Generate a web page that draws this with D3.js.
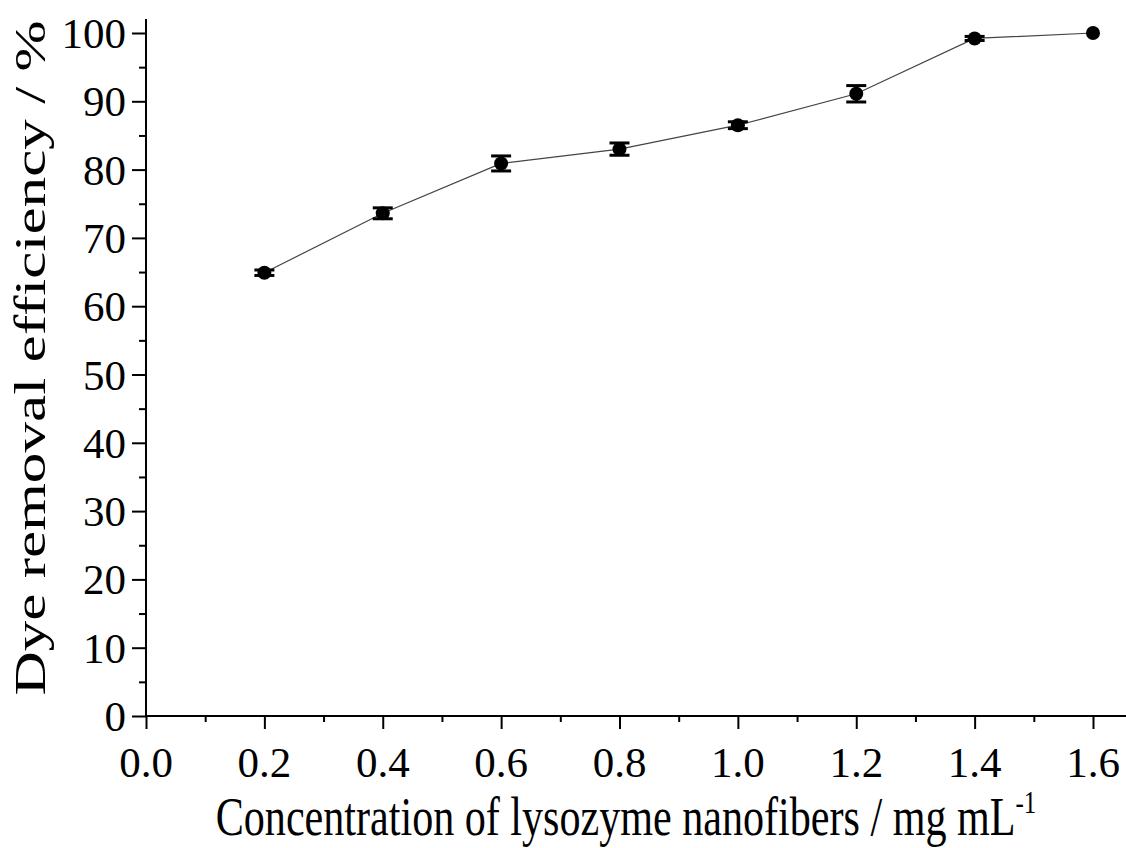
<!DOCTYPE html>
<html>
<head>
<meta charset="utf-8">
<script src="https://cdn.jsdelivr.net/npm/d3@7"></script>
<style>
  body { margin: 0; background: #fff; }
  svg text { font-family: "Liberation Serif", "Times New Roman", serif; fill: #000; }
</style>
</head>
<body>
<div class="container"></div>
<script>
var concentrations = [0.2, 0.4, 0.6, 0.8, 1.0, 1.2, 1.4, 1.6];
var efficiency = [64.9, 73.6, 80.9, 83.0, 86.5, 91.1, 99.2, 100.0];
var errors = [0.4, 0.8, 1.1, 0.9, 0.5, 1.2, 0.3, 0];
var xTicks = [0, 0.2, 0.4, 0.6, 0.8, 1.0, 1.2, 1.4, 1.6];
var yTicks = [0, 10, 20, 30, 40, 50, 60, 70, 80, 90, 100];

var iWidth = 1126, iHeight = 848;

var svg = d3.select(".container").append("svg")
	.attr("width", iWidth)
	.attr("height", iHeight);

var x = d3.scaleLinear().domain([0, 1.6]).range([146, 1093]);
var y = d3.scaleLinear().domain([0, 100]).range([716, 33]);

// x axis: major ticks every 0.2, minor in between
var xAxis = d3.axisBottom(x)
	.tickValues(d3.range(0, 17).map(function(i) { return i / 10; }))
	.tickSize(6)
	.tickFormat("");
var gx = svg.append("g").attr("transform", "translate(0,716)").call(xAxis);
gx.select(".domain").remove();
gx.selectAll(".tick").filter(function(d, i) { return i % 2 === 0; })
	.select("line").attr("y2", 13);
gx.selectAll(".tick line").attr("stroke", "#000").attr("stroke-width", 2);
svg.append("line")
	.attr("x1", 145).attr("x2", 1126)
	.attr("y1", 716).attr("y2", 716)
	.attr("stroke", "#000").attr("stroke-width", 2);

svg.append("g").selectAll("text")
	.data(xTicks)
	.enter()
	.append("text")
	.attr("x", function(d) { return x(d); })
	.attr("y", 777)
	.attr("text-anchor", "middle")
	.style("font-size", "43px")
	.text(function(d) { return d.toFixed(1); });

// y axis
var yAxis = d3.axisLeft(y)
	.tickValues(d3.range(0, 101, 5))
	.tickSize(7)
	.tickFormat("");
var gy = svg.append("g").attr("transform", "translate(146,0)").call(yAxis);
gy.select(".domain").remove();
gy.selectAll(".tick").filter(function(d) { return d % 10 === 0; })
	.select("line").attr("x2", -14);
gy.selectAll(".tick line").attr("stroke", "#000").attr("stroke-width", 2);
svg.append("line")
	.attr("x1", 146).attr("x2", 146)
	.attr("y1", 19).attr("y2", 717)
	.attr("stroke", "#000").attr("stroke-width", 2);

svg.append("g").selectAll("text")
	.data(yTicks)
	.enter()
	.append("text")
	.attr("x", 126)
	.attr("y", function(d) { return y(d) + 15; })
	.attr("text-anchor", "end")
	.style("font-size", "43px")
	.text(function(d) { return d; });

// titles (the original figure looks stretched vertically)
svg.append("text")
	.attr("transform", "translate(45,358) rotate(-90) scale(1.36,1)")
	.attr("text-anchor", "middle")
	.style("font-size", "45px")
	.text("Dye removal efficiency / %");

var xt = svg.append("text")
	.attr("transform", "translate(626,835) scale(0.78,1)")
	.attr("text-anchor", "middle")
	.style("font-size", "54px");
xt.append("tspan").text("Concentration of lysozyme nanofibers / mg mL");
xt.append("tspan").attr("dy", -22).style("font-size", "32px").text("-1");

// data
var aData = concentrations.map(function(c, i) {
	return { x: c, y: efficiency[i], e: errors[i] };
});

svg.append("path")
	.datum(aData)
	.attr("fill", "none")
	.attr("stroke", "#444")
	.attr("stroke-width", 1.2)
	.attr("d", d3.line().x(function(d) { return x(d.x); }).y(function(d) { return y(d.y); }));

var err = svg.append("g").selectAll("g")
	.data(aData.filter(function(d) { return d.e > 0; }))
	.enter()
	.append("g")
	.attr("stroke", "#000")
	.attr("stroke-width", 3);
err.append("line")
	.attr("x1", function(d) { return x(d.x); })
	.attr("x2", function(d) { return x(d.x); })
	.attr("y1", function(d) { return y(d.y + d.e); })
	.attr("y2", function(d) { return y(d.y - d.e); });
err.append("line")
	.attr("x1", function(d) { return x(d.x) - 10; })
	.attr("x2", function(d) { return x(d.x) + 10; })
	.attr("y1", function(d) { return y(d.y + d.e); })
	.attr("y2", function(d) { return y(d.y + d.e); });
err.append("line")
	.attr("x1", function(d) { return x(d.x) - 10; })
	.attr("x2", function(d) { return x(d.x) + 10; })
	.attr("y1", function(d) { return y(d.y - d.e); })
	.attr("y2", function(d) { return y(d.y - d.e); });

svg.append("g").selectAll("circle")
	.data(aData)
	.enter()
	.append("circle")
	.attr("cx", function(d) { return x(d.x); })
	.attr("cy", function(d) { return y(d.y); })
	.attr("r", 7)
	.attr("fill", "#000");
</script>
</body>
</html>
